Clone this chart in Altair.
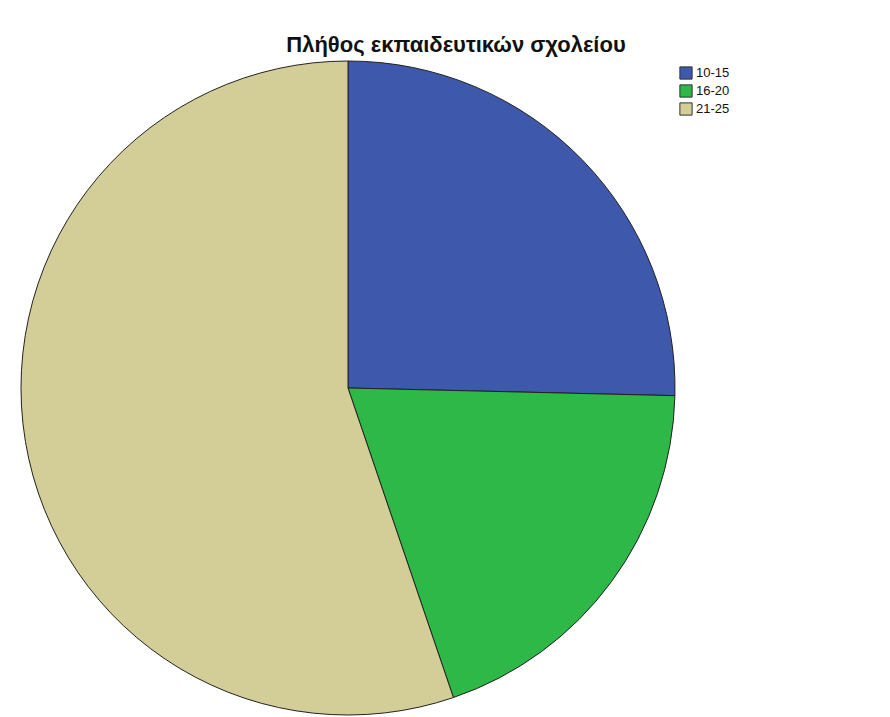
import altair as alt
import pandas as pd

categories = ["10-15", "16-20", "21-25"]
counts = [17, 13, 37]
colors = ["#3E58AC", "#2EB848", "#D3CE97"]
title_text = "Πλήθος εκπαιδευτικών σχολείου"

df = pd.DataFrame({"cat": categories, "n": counts, "order": list(range(len(categories)))})

W, H = 874, 701
CX, CY, R = 340, 380, 327

pie = alt.Chart(df).mark_arc(
    radius=R, stroke="#222222", strokeWidth=1
).encode(
    theta=alt.Theta("n:Q", stack=True),
    order=alt.Order("order:Q"),
    color=alt.Color(
        "cat:N",
        scale=alt.Scale(domain=categories, range=colors),
        legend=alt.Legend(
            title=None,
            orient="none",
            legendX=671,
            legendY=58,
            symbolType="square",
            symbolSize=150,
            symbolStrokeColor="#333333",
            symbolStrokeWidth=1,
            labelFont="Liberation Sans",
            labelFontSize=13,
            labelColor="#111111",
            rowPadding=0,
            labelOffset=3,
        ),
    ),
    x=alt.value(CX),
    y=alt.value(CY),
)

title = alt.Chart(pd.DataFrame({"t": [title_text]})).mark_text(
    font="Liberation Sans", fontSize=22, fontWeight="bold", color="#111111",
    align="center", baseline="alphabetic"
).encode(
    text="t:N",
    x=alt.value(448),
    y=alt.value(44),
)

chart = alt.layer(pie, title).properties(
    width=W, height=H, padding=0
).configure_view(strokeWidth=0)

chart.save("out.html", embed_options={"renderer": "svg", "actions": False})
